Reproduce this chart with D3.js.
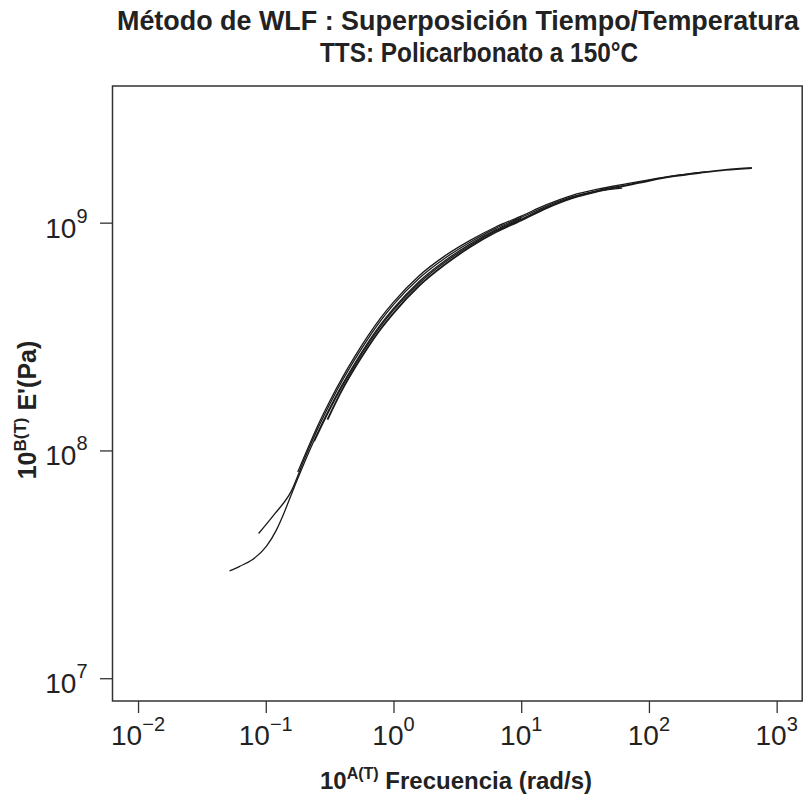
<!DOCTYPE html>
<html>
<head>
<meta charset="utf-8">
<script src="https://cdn.jsdelivr.net/npm/d3@7"></script>
<style>
  html, body { margin: 0; padding: 0; background: #fff; }
  svg { display: block; font-family: "Liberation Sans", Arial, Helvetica, sans-serif; }
</style>
</head>
<body>
<svg id="chart" width="806" height="802"></svg>
<script>
// ---- Data (frequency rad/s, storage modulus Pa) ----
const freqA = [0.0521, 0.0625, 0.0789, 0.101, 0.121, 0.140, 0.158, 0.200, 0.251, 0.316, 0.398, 0.501, 0.631, 0.794, 1.00, 1.58, 2.51, 3.98, 6.31, 10.0];
const modA  = [2.96e7, 3.10e7, 3.32e7, 3.79e7, 4.47e7, 5.37e7, 6.38e7, 8.81e7, 1.175e8, 1.531e8, 1.950e8, 2.427e8, 2.972e8, 3.573e8, 4.198e8, 5.508e8, 6.792e8, 8.054e8, 9.290e8, 1.045e9];

const freqB = [0.0879, 0.117, 0.158, 0.200, 0.251, 0.316, 0.398, 0.501, 0.631, 0.794, 1.00, 1.58, 2.51, 3.98, 6.31, 10.0, 15.8, 25.1, 39.8, 61.7];
const modB  = [4.32e7, 5.25e7, 6.61e7, 9.12e7, 1.222e8, 1.592e8, 2.028e8, 2.523e8, 3.090e8, 3.715e8, 4.365e8, 5.689e8, 6.966e8, 8.204e8, 9.441e8, 1.054e9, 1.183e9, 1.300e9, 1.384e9, 1.445e9];

const freqC = [0.304, 0.398, 0.501, 0.631, 0.794, 1.00, 1.58, 2.51, 3.98, 6.31, 10.0, 15.8, 25.1, 39.8, 63.1, 100, 158, 251, 398, 640];
const modC  = [1.365e8, 1.854e8, 2.317e8, 2.838e8, 3.412e8, 4.009e8, 5.272e8, 6.531e8, 7.816e8, 9.075e8, 1.023e9, 1.159e9, 1.282e9, 1.374e9, 1.449e9, 1.528e9, 1.600e9, 1.656e9, 1.706e9, 1.738e9];

const freqD = [0.178, 0.200, 0.251, 0.316, 0.398, 0.501, 0.631, 0.794, 1.00, 1.58, 2.51, 3.98, 6.31, 10.0, 15.8, 25.1, 39.8, 63.1, 100, 158, 280];
const modD  = [8.04e7, 9.376e7, 1.259e8, 1.641e8, 2.089e8, 2.600e8, 3.184e8, 3.819e8, 4.477e8, 5.834e8, 7.129e8, 8.356e8, 9.572e8, 1.069e9, 1.199e9, 1.318e9, 1.403e9, 1.472e9, 1.542e9, 1.607e9, 1.671e9];

const freqE = [0.240, 0.316, 0.398, 0.501, 0.631, 0.794, 1.00, 1.58, 2.51, 3.98, 6.31, 10.0, 15.8, 25.1, 39.8, 61.7];
const modE  = [1.096e8, 1.507e8, 1.919e8, 2.388e8, 2.924e8, 3.516e8, 4.130e8, 5.408e8, 6.683e8, 7.943e8, 9.204e8, 1.035e9, 1.167e9, 1.288e9, 1.374e9, 1.419e9];

const xTickExp = [-2, -1, 0, 1, 2, 3];
const yTickExp = [7, 8, 9];

const titleLine1 = "Método de WLF : Superposición Tiempo/Temperatura";
const titleLine2 = "TTS: Policarbonato a 150°C";

// ---- Layout ----
const svg = d3.select("#chart");
const plot = { left: 112.5, right: 802.2, top: 86, bottom: 701 };

const x = d3.scaleLog().domain([Math.pow(10, -2.2), Math.pow(10, 3.2)]).range([plot.left, plot.right]);
const y = d3.scaleLog().domain([Math.pow(10, 6.9), Math.pow(10, 9.6)]).range([plot.bottom, plot.top]);

const series = [
  { f: freqA, m: modA, w: 1.3 },
  { f: freqB, m: modB, w: 1.3 },
  { f: freqE, m: modE, w: 1.3 },
  { f: freqD, m: modD, w: 1.3 },
  { f: freqC, m: modC, w: 1.9 }
];

const line = d3.line()
  .x(d => x(d[0]))
  .y(d => y(d[1]))
  .curve(d3.curveMonotoneX);

svg.append("g").selectAll("path")
  .data(series)
  .join("path")
  .attr("d", s => line(s.f.map((v, i) => [v, s.m[i]])))
  .attr("fill", "none")
  .attr("stroke", "#1a1a1a")
  .attr("stroke-width", s => s.w)
  .attr("stroke-linejoin", "round")
  .attr("stroke-linecap", "butt");

// ---- Box ----
svg.append("rect")
  .attr("x", plot.left).attr("y", plot.top)
  .attr("width", plot.right - plot.left).attr("height", plot.bottom - plot.top)
  .attr("fill", "none").attr("stroke", "#333").attr("stroke-width", 1.5);

// ---- X axis ----
const xAxis = d3.axisBottom(x)
  .tickValues(xTickExp.map(e => Math.pow(10, e)))
  .tickSize(12)
  .tickFormat("");
const gx = svg.append("g").attr("transform", `translate(0,${plot.bottom})`).call(xAxis);
gx.select(".domain").remove();
gx.selectAll(".tick line").attr("stroke", "#333").attr("stroke-width", 1.3);

const xl = svg.append("g").selectAll("text")
  .data(xTickExp)
  .join("text")
  .attr("x", e => x(Math.pow(10, e)))
  .attr("y", 745)
  .attr("text-anchor", "middle")
  .attr("fill", "#222");
xl.append("tspan").attr("font-size", 28).text("10");
xl.append("tspan").attr("font-size", 20).attr("dy", -14).text(e => e < 0 ? "\u2212" + Math.abs(e) : String(e));

// ---- Y axis ----
const yAxis = d3.axisLeft(y)
  .tickValues(yTickExp.map(e => Math.pow(10, e)))
  .tickSize(12.5)
  .tickFormat("");
const gy = svg.append("g").attr("transform", `translate(${plot.left},0)`).call(yAxis);
gy.select(".domain").remove();
gy.selectAll(".tick line").attr("stroke", "#333").attr("stroke-width", 1.3);

const yl = svg.append("g").selectAll("text")
  .data(yTickExp)
  .join("text")
  .attr("x", 87.5)
  .attr("y", e => y(Math.pow(10, e)) + 15)
  .attr("text-anchor", "end")
  .attr("fill", "#222");
yl.append("tspan").attr("font-size", 28).text("10");
yl.append("tspan").attr("font-size", 20).attr("dy", -15).text(e => String(e));

// ---- Titles ----
svg.append("text")
  .attr("x", 458).attr("y", 30)
  .attr("text-anchor", "middle")
  .attr("font-size", 27).attr("font-weight", "bold").attr("fill", "#222")
  .attr("textLength", 682).attr("lengthAdjust", "spacingAndGlyphs")
  .text(titleLine1);
svg.append("text")
  .attr("x", 479).attr("y", 62)
  .attr("text-anchor", "middle")
  .attr("font-size", 27).attr("font-weight", "bold").attr("fill", "#222")
  .attr("textLength", 318).attr("lengthAdjust", "spacingAndGlyphs")
  .text(titleLine2);

// x axis title
const xt = svg.append("text")
  .attr("x", 456).attr("y", 789)
  .attr("text-anchor", "middle")
  .attr("font-weight", "bold").attr("fill", "#222");
xt.append("tspan").attr("font-size", 24).text("10");
xt.append("tspan").attr("font-size", 16).attr("dy", -10).text("A(T)");
xt.append("tspan").attr("font-size", 24).attr("dy", 10).text(" Frecuencia (rad/s)");

// y axis title
const yt = svg.append("text")
  .attr("transform", "translate(36,410) rotate(-90)")
  .attr("text-anchor", "middle")
  .attr("font-weight", "bold").attr("fill", "#222");
yt.append("tspan").attr("font-size", 25).text("10");
yt.append("tspan").attr("font-size", 17).attr("dy", -10).text("B(T)");
yt.append("tspan").attr("font-size", 25).attr("dy", 10).text(" E'(Pa)");
</script>
</body>
</html>
